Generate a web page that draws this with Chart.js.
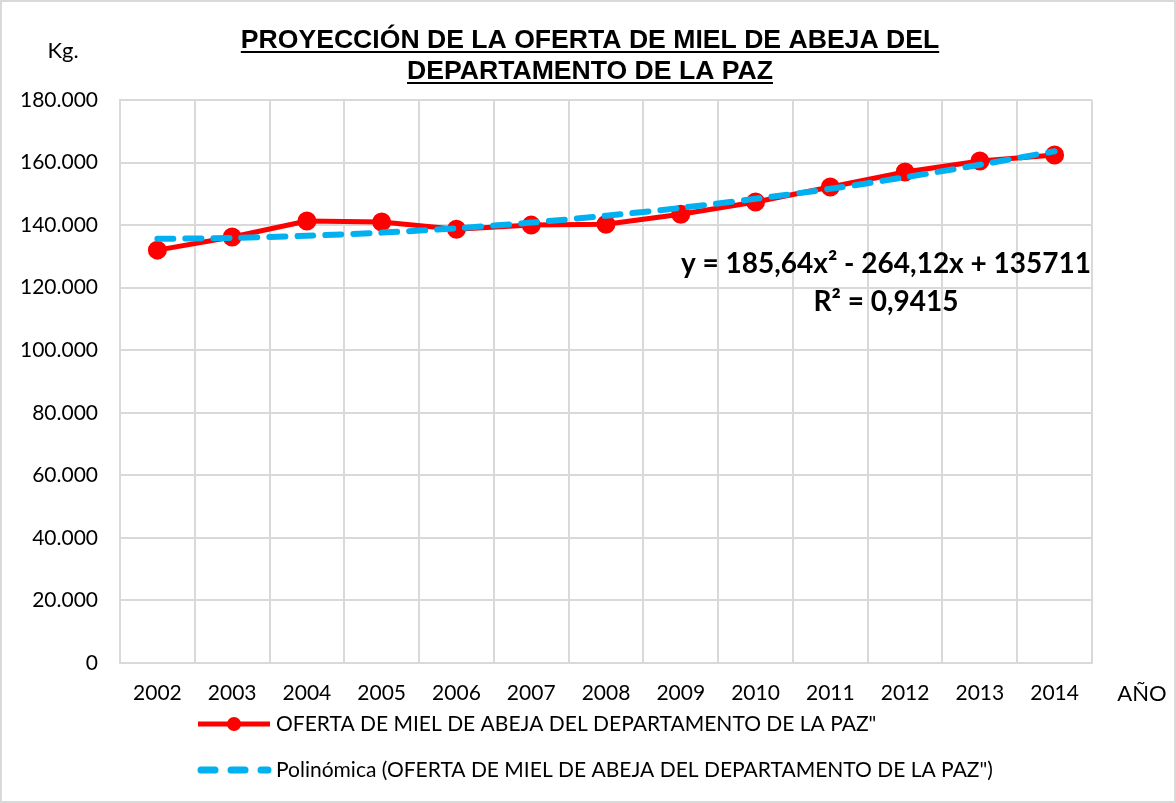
<!DOCTYPE html>
<html>
<head>
<meta charset="utf-8">
<script src="https://cdn.jsdelivr.net/npm/chart.js@4.4.0/dist/chart.umd.min.js"></script>
<style>
    html, body { margin: 0; padding: 0; background: #fff; }
    #wrap { width: 1176px; height: 803px; position: relative; }
</style>
</head>
<body>
<div id="wrap"><canvas id="lineChart"></canvas></div>
<script>
// ── data ──
const years = ['2002', '2003', '2004', '2005', '2006', '2007', '2008',
               '2009', '2010', '2011', '2012', '2013', '2014'];
const oferta = [132000, 136200, 141300, 141000, 138700, 140000, 140300,
                143500, 147400, 152200, 157000, 160500, 162400];
const polinomica = [135600, 135900, 136600, 137600, 139000, 140800, 143000,
                    145500, 148400, 151600, 155300, 159300, 163600];
const titleLines = ['PROYECCIÓN DE LA OFERTA DE MIEL DE ABEJA DEL', 'DEPARTAMENTO DE LA PAZ'];
const serieLabel = 'OFERTA DE MIEL DE ABEJA DEL DEPARTAMENTO DE LA PAZ"';
const trendLabel = 'Polinómica (OFERTA DE MIEL DE ABEJA DEL DEPARTAMENTO DE LA PAZ")';
const equation = ['y = 185,64x² - 264,12x + 135711', 'R² = 0,9415'];

const RED = '#ff0000';
const BLUE = '#00b0f0';
const GRID = '#d9d9d9';
const BODY_FONT = 'Lato, "Open Sans", sans-serif';

// Title, axis names, trend equation, legend, outer border
const decorations = {
    id: 'decorations',
    afterDraw(chart) {
        const c = chart.ctx;
        c.save();

        // outer border
        c.strokeStyle = GRID;
        c.lineWidth = 2;
        c.strokeRect(1, 1, 1174, 801);

        // title (underlined)
        c.fillStyle = '#000';
        c.font = 'bold 26.6px "Liberation Sans", Arial, sans-serif';
        c.textAlign = 'center';
        c.textBaseline = 'alphabetic';
        const ty = [48, 79];
        titleLines.forEach((t, i) => {
            c.fillText(t, 590, ty[i]);
            const w = c.measureText(t).width;
            c.fillRect(590 - w / 2, ty[i] + 3, w, 2);
        });

        // axis names
        c.font = '22px ' + BODY_FONT;
        c.fillText('Kg.', 63, 58);
        c.fillText('AÑO', 1142, 701);

        // trend equation
        c.font = 'bold 28px ' + BODY_FONT;
        c.fillText(equation[0], 886, 273);
        c.fillText(equation[1], 886, 311);

        // legend
        c.textAlign = 'left';
        c.font = '21px ' + BODY_FONT;
        c.strokeStyle = RED;
        c.lineWidth = 5;
        c.beginPath();
        c.moveTo(198, 724);
        c.lineTo(270, 724);
        c.stroke();
        c.fillStyle = RED;
        c.beginPath();
        c.arc(234, 724, 7, 0, Math.PI * 2);
        c.fill();
        c.fillStyle = '#000';
        c.fillText(serieLabel, 276, 731);

        c.strokeStyle = BLUE;
        c.lineWidth = 7;
        c.lineCap = 'round';
        c.setLineDash([14, 16]);
        c.beginPath();
        c.moveTo(201, 770);
        c.lineTo(268, 770);
        c.stroke();
        c.setLineDash([]);
        c.fillText(trendLabel, 276, 777);

        c.restore();
    }
};

const ctx = document.getElementById('lineChart');
new Chart(ctx, {
    type: 'line',
    data: {
        labels: years,
        datasets: [{
            label: trendLabel,
            data: polinomica,
            borderColor: BLUE,
            borderWidth: 6,
            borderDash: [16, 12],
            borderCapStyle: 'round',
            pointRadius: 0,
            tension: 0.3,
            order: 0
        }, {
            label: serieLabel,
            data: oferta,
            borderColor: RED,
            backgroundColor: RED,
            borderWidth: 5,
            pointRadius: 7,
            pointBackgroundColor: RED,
            pointBorderColor: RED,
            tension: 0,
            order: 1
        }]
    },
    options: {
        responsive: true,
        maintainAspectRatio: false,
        animation: false,
        layout: { padding: { top: 100, right: 84, left: 0, bottom: 0 } },
        plugins: {
            legend: { display: false },
            tooltip: { enabled: false },
            title: { display: false }
        },
        scales: {
            y: {
                min: 0,
                max: 180000,
                ticks: {
                    stepSize: 20000,
                    color: '#000',
                    padding: 22,
                    font: { family: BODY_FONT, size: 21 },
                    callback: v => v === 0 ? '0' : v.toLocaleString('de-DE')
                },
                grid: { color: GRID, lineWidth: 2, drawTicks: false },
                border: { color: GRID, width: 2 },
                afterFit(scale) { scale.width = 120; }
            },
            x: {
                offset: true,
                ticks: {
                    color: '#000',
                    padding: 18,
                    font: { family: BODY_FONT, size: 21 }
                },
                grid: { color: GRID, lineWidth: 2, offset: true, drawTicks: false },
                border: { color: GRID, width: 2 },
                afterFit(scale) { scale.height = 140; }
            }
        }
    },
    plugins: [decorations]
});
</script>
</body>
</html>
